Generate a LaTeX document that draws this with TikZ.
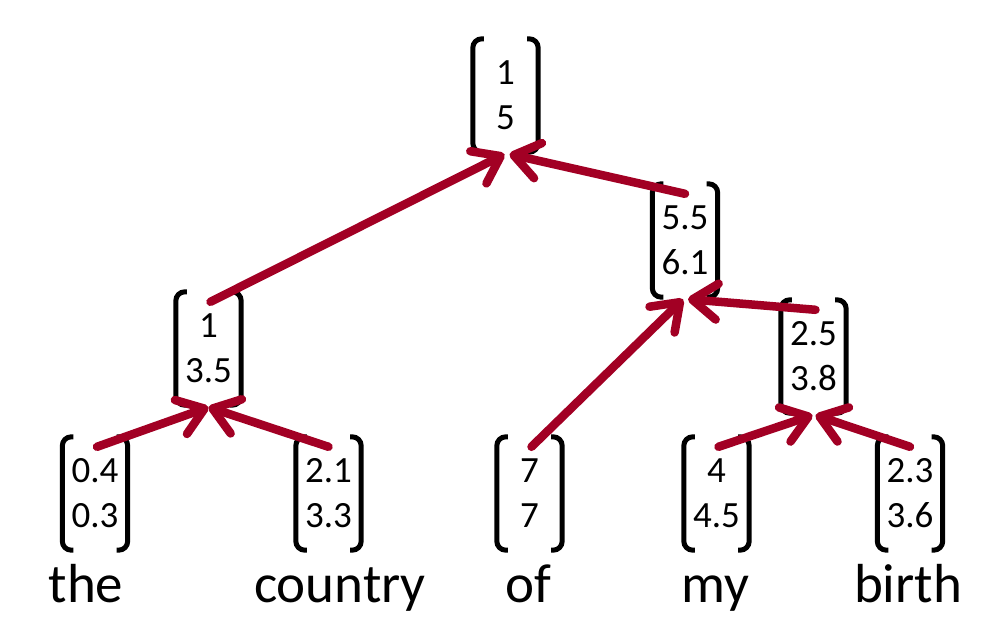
\documentclass[tikz,border=0pt]{standalone}
\usepackage{fontspec}
\setmainfont{Carlito}
\usetikzlibrary{arrows.meta}
\definecolor{arrowred}{RGB}{162,0,36}
\tikzset{
  vec/.style={minimum width=65pt, minimum height=113pt, inner sep=0pt,
    align=center, font=\fontsize{37pt}{45pt}\selectfont},
  word/.style={anchor=base, inner sep=0pt, font=\fontsize{55pt}{60pt}\selectfont},
  brk/.style={line width=5pt, rounded corners=9pt},
  edge/.style={draw=arrowred, line width=8.5pt, line cap=round,
    -{Straight Barb[length=25pt, width=36pt, line cap=round, line join=round]}}
}
\newcommand{\vecbrackets}[1]{%
  \draw[brk] ([xshift=11pt]#1.north west) -- (#1.north west) -- (#1.south west) -- ([xshift=11pt]#1.south west);
  \draw[brk] ([xshift=-11pt]#1.north east) -- (#1.north east) -- (#1.south east) -- ([xshift=-11pt]#1.south east);
}
\begin{document}
\begin{tikzpicture}[x=1pt, y=-1pt]
\useasboundingbox (0,0) rectangle (1006,624);
% vectors
\node[vec] (T) at (505.5,95.5) {1\\5};
\node[vec] (B) at (685,240.5) {5.5\\6.1};
\node[vec] (A) at (208.5,348.5) {1\\3.5};
\node[vec] (C) at (813.5,356.5) {2.5\\3.8};
\node[vec] (v1) at (95,493.5) {0.4\\0.3};
\node[vec] (v2) at (328.5,493.5) {2.1\\3.3};
\node[vec] (v3) at (529.5,493.5) {7\\7};
\node[vec] (v4) at (716.5,493.5) {4\\4.5};
\node[vec] (v5) at (910,493.5) {2.3\\3.6};
\foreach \n in {T,B,A,C,v1,v2,v3,v4,v5} {\vecbrackets{\n}}
% words
\node[word] (w1) at (86,602) {the};
\node[word] (w2) at (340,602) {country};
\node[word] (w3) at (528,602) {of};
\node[word] (w4) at (715,602) {my};
\node[word] (w5) at (908,602) {birth};
% arrows
\draw[edge] ([xshift=2pt,yshift=-10pt]v1.north) -- ([yshift=-2pt]A.south);
\draw[edge] ([xshift=0pt,yshift=-10pt]v2.north) -- ([yshift=-2pt]A.south);
\draw[edge] ([xshift=2pt,yshift=-10pt]A.north) -- ([xshift=-1pt,yshift=-2pt]T.south);
\draw[edge] ([xshift=0pt,yshift=-10pt]B.north) -- ([xshift=4pt,yshift=-2pt]T.south);
\draw[edge] ([xshift=2pt,yshift=-10pt]v3.north) -- ([xshift=-2pt,yshift=-2pt]B.south);
\draw[edge] ([xshift=2pt,yshift=-10pt]C.north) -- ([xshift=3pt,yshift=-2pt]B.south);
\draw[edge] ([xshift=2pt,yshift=-10pt]v4.north) -- ([xshift=-1pt,yshift=-2pt]C.south);
\draw[edge] ([xshift=0pt,yshift=-10pt]v5.north) -- ([xshift=2pt,yshift=-2pt]C.south);
\end{tikzpicture}
\end{document}
